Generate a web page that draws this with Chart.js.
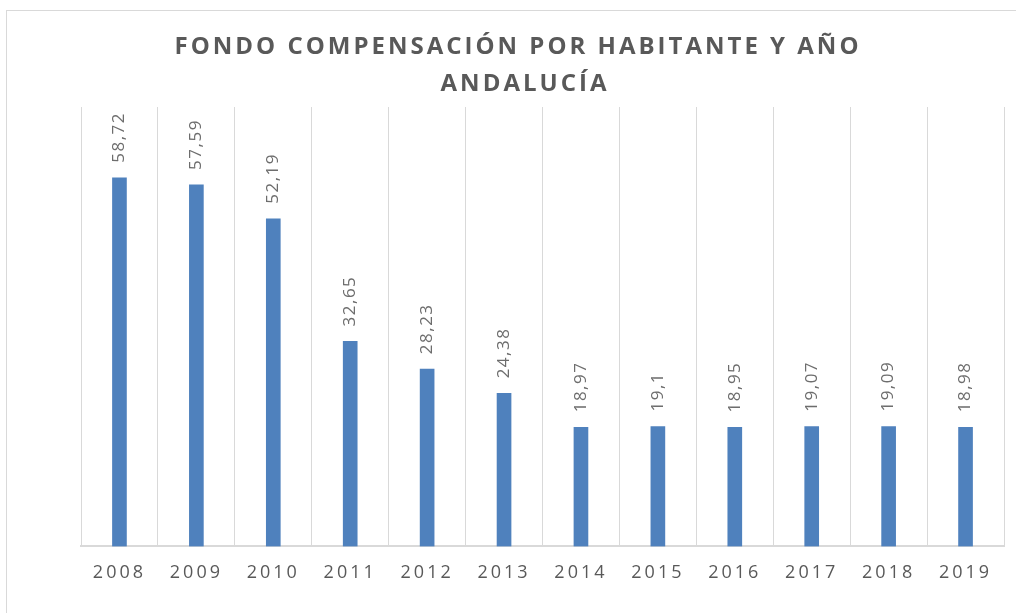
<!DOCTYPE html>
<html>
<head>
<meta charset="utf-8">
<script src="https://cdn.jsdelivr.net/npm/chart.js@4"></script>
<style>
    html, body { margin: 0; padding: 0; background: #fff; }
    #wrap { width: 1016px; height: 613px; position: relative; }
</style>
</head>
<body>
<div id="wrap"><canvas id="fondoChart"></canvas></div>
<script>
// chart values
const years = ["2008", "2009", "2010", "2011", "2012", "2013", "2014", "2015", "2016", "2017", "2018", "2019"];
const fondoPorHabitante = [58.72, 57.59, 52.19, 32.65, 28.23, 24.38, 18.97, 19.1, 18.95, 19.07, 19.09, 18.98];
const titleLines = ["FONDO COMPENSACIÓN POR HABITANTE Y AÑO", "ANDALUCÍA"];

const textGray = "#595959";
const gridGray = "#d9d9d9";

// frame + title + rotated value labels drawn by hand
const excelLook = {
    id: "excelLook",
    beforeDraw(chart) {
        const ctx = chart.ctx;
        ctx.save();
        ctx.strokeStyle = gridGray;
        ctx.lineWidth = 1;
        ctx.strokeRect(6.5, 10.5, 1030, 640);
        ctx.restore();
        ctx.letterSpacing = "3px";
    },
    afterDraw(chart) {
        const ctx = chart.ctx;
        ctx.save();
        ctx.letterSpacing = "3px";
        ctx.fillStyle = textGray;
        ctx.font = "bold 24px 'Open Sans'";
        ctx.textAlign = "center";
        ctx.textBaseline = "middle";
        ctx.fillText(titleLines[0], 518, 47);
        ctx.fillText(titleLines[1], 525, 84);
        ctx.restore();

        const meta = chart.getDatasetMeta(0);
        ctx.save();
        ctx.letterSpacing = "1.5px";
        ctx.fillStyle = "#6d6d6d";
        ctx.font = "17px 'Open Sans'";
        ctx.textAlign = "left";
        ctx.textBaseline = "middle";
        meta.data.forEach((bar, i) => {
            ctx.save();
            ctx.translate(bar.x, bar.y - 15);
            ctx.rotate(-Math.PI / 2);
            ctx.fillText(fondoPorHabitante[i].toString().replace(".", ","), 0, 0);
            ctx.restore();
        });
        ctx.restore();
    }
};

new Chart(document.getElementById("fondoChart"), {
    type: "bar",
    data: {
        labels: years,
        datasets: [{
            data: fondoPorHabitante,
            backgroundColor: "#4f81bd",
            barThickness: 14
        }]
    },
    options: {
        responsive: true,
        maintainAspectRatio: false,
        animation: false,
        layout: { padding: { left: 81, right: 12, top: 107, bottom: 13 } },
        plugins: {
            legend: { display: false },
            title: { display: false },
            tooltip: { enabled: false }
        },
        scales: {
            x: {
                grid: { color: gridGray, offset: true, drawTicks: false },
                border: { color: gridGray, width: 2 },
                ticks: { color: textGray, font: { family: "'Open Sans'", size: 18 }, padding: 16 }
            },
            y: {
                display: false,
                min: 0,
                max: 70
            }
        }
    },
    plugins: [excelLook]
});
</script>
</body>
</html>
